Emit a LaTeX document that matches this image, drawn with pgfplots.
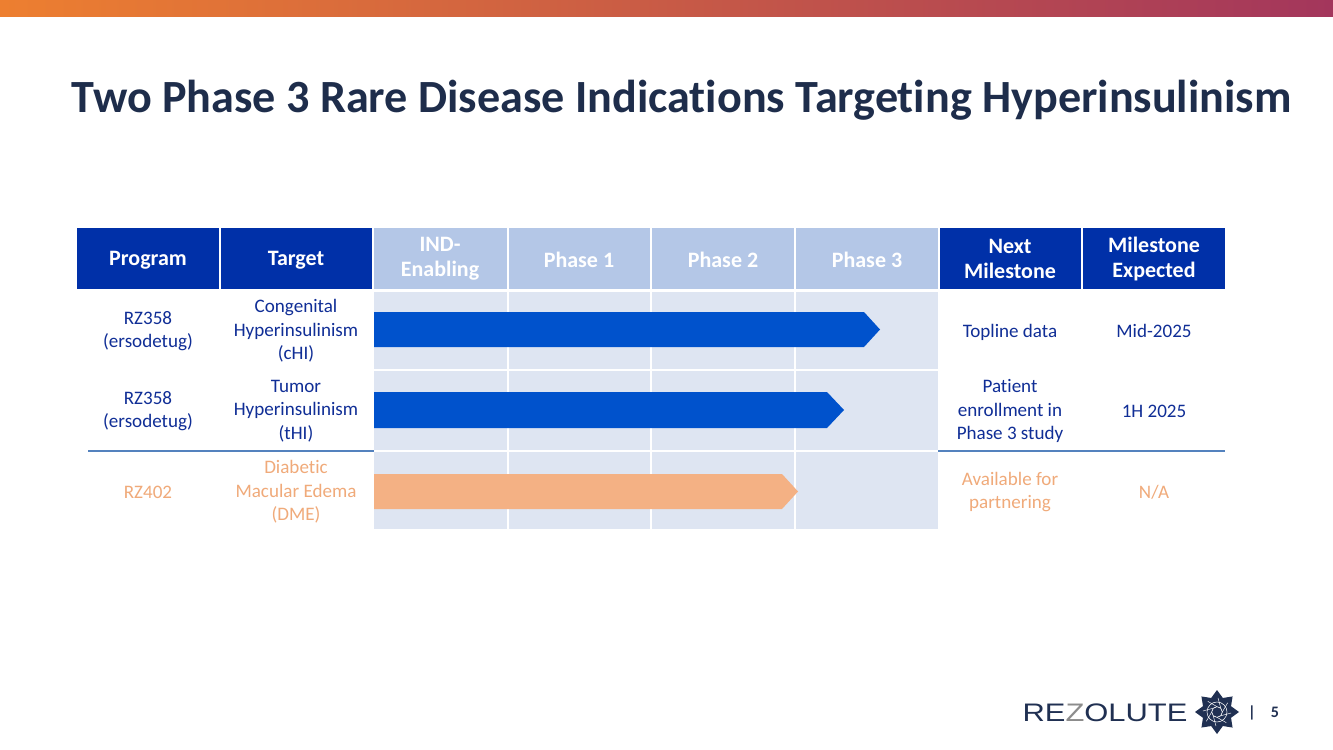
\documentclass[border=0pt]{standalone}
\usepackage{pgfplots}
\pgfplotsset{compat=1.18}
\usetikzlibrary{shapes.geometric}
\usepackage{fontspec}
\setmainfont{Carlito}[Ligatures=NoCommon]
\newfontfamily\logofont{Liberation Sans}

\definecolor{gradL}{RGB}{237,127,48}
\definecolor{gradR}{RGB}{163,54,92}
\definecolor{titlecol}{RGB}{30,45,75}
\definecolor{hdrdark}{RGB}{0,48,168}
\definecolor{hdrlight}{RGB}{180,199,231}
\definecolor{cellbg}{RGB}{222,229,242}
\definecolor{barblue}{RGB}{0,82,204}
\definecolor{barorange}{RGB}{244,177,132}
\definecolor{txtblue}{RGB}{16,46,150}
\definecolor{txtorange}{RGB}{240,170,122}
\definecolor{sepline}{RGB}{84,130,190}
\definecolor{logonavy}{RGB}{32,48,82}
\definecolor{logogray}{RGB}{140,140,140}

\newcommand{\cell}[5]{\addplot[fill=#5, draw=none] coordinates {(#1,#2)(#3,#2)(#3,#4)(#1,#4)} -- cycle;}

\begin{document}
\begin{tikzpicture}
\begin{axis}[
  width=999.75pt, height=561.75pt, scale only axis,
  xmin=0, xmax=1333, ymin=0, ymax=749, y dir=reverse,
  hide axis, clip=false]
% background
\cell{0}{0}{1333}{749}{white}
% top gradient band
\addplot[draw=none, left color=gradL, right color=gradR] coordinates {(0,0)(1333,0)(1333,17)(0,17)} -- cycle;

% header cells
\cell{77}{228}{219}{289}{hdrdark}
\cell{221}{228}{372}{289}{hdrdark}
\cell{374}{228}{507}{289}{hdrlight}
\cell{509}{228}{650}{289}{hdrlight}
\cell{652}{228}{794}{289}{hdrlight}
\cell{796}{228}{938}{289}{hdrlight}
\cell{940}{228}{1081}{289}{hdrdark}
\cell{1083}{228}{1225}{289}{hdrdark}

% body background cells (phase columns)
\cell{374}{292}{507}{369}{cellbg}
\cell{509}{292}{650}{369}{cellbg}
\cell{652}{292}{794}{369}{cellbg}
\cell{796}{292}{938}{369}{cellbg}
\cell{374}{371}{507}{450}{cellbg}
\cell{509}{371}{650}{450}{cellbg}
\cell{652}{371}{794}{450}{cellbg}
\cell{796}{371}{938}{450}{cellbg}
\cell{374}{452}{507}{529}{cellbg}
\cell{509}{452}{650}{529}{cellbg}
\cell{652}{452}{794}{529}{cellbg}
\cell{796}{452}{938}{529}{cellbg}

% separator line
\addplot[sepline, line width=1.1pt] coordinates {(88,451)(374,451)};
\addplot[sepline, line width=1.1pt] coordinates {(938,451)(1225,451)};

% progress bars (chevron arrows)
\addplot[fill=barblue, draw=none] coordinates {(374,312)(864,312)(880,329.5)(864,347)(374,347)} -- cycle;
\addplot[fill=barblue, draw=none] coordinates {(374,392)(827,392)(844,410)(827,428)(374,428)} -- cycle;
\addplot[fill=barorange, draw=none] coordinates {(374,474)(782,474)(798,491.5)(782,509)(374,509)} -- cycle;

% title
\node[text=titlecol, font=\fontsize{34.6}{40}\selectfont\bfseries, anchor=base] at (axis cs:681.5,112) {Two Phase 3 Rare Disease Indications Targeting Hyperinsulinism};

% header texts
\begin{scope}[every node/.style={text=white, font=\fontsize{16.5}{18.8}\selectfont\bfseries, align=center}]
\node at (axis cs:148,260) {Program};
\node at (axis cs:296,260) {Target};
\node at (axis cs:440,259) {IND-\\Enabling};
\node at (axis cs:579,260) {Phase 1};
\node at (axis cs:723,260) {Phase 2};
\node at (axis cs:867,260) {Phase 3};
\node at (axis cs:1010,259) {Next\\Milestone};
\node at (axis cs:1154,259) {Milestone\\Expected};
\end{scope}

% body texts
\begin{scope}[every node/.style={text=txtblue, font=\fontsize{14.3}{17.6}\selectfont, align=center}]
\node at (axis cs:148,331) {RZ358\\(ersodetug)};
\node at (axis cs:296,331) {Congenital\\Hyperinsulinism\\(cHI)};
\node at (axis cs:1010,332) {Topline data};
\node at (axis cs:1154,331) {Mid-2025};
\node at (axis cs:148,411) {RZ358\\(ersodetug)};
\node at (axis cs:296,411) {Tumor\\Hyperinsulinism\\(tHI)};
\node at (axis cs:1010,411) {Patient\\enrollment in\\Phase 3 study};
\node at (axis cs:1154,411) {1H 2025};
\end{scope}
\begin{scope}[every node/.style={text=txtorange, font=\fontsize{14.3}{17.6}\selectfont, align=center}]
\node at (axis cs:148,492) {RZ402};
\node at (axis cs:296,492) {Diabetic\\Macular Edema\\(DME)};
\node at (axis cs:1010,492) {Available for\\partnering};
\node at (axis cs:1154,492) {N/A};
\end{scope}

% logo anchors
\node[text=logonavy, font=\logofont\fontsize{19}{21}\selectfont, xscale=1.22, anchor=base] at (axis cs:1105,721) {RE{\color{logogray}Z}OLUTE};
\coordinate (emc) at (axis cs:1217,712);
\node[text=logonavy, font=\fontsize{12}{14}\selectfont\bfseries] at (axis cs:1252,713) {|};
\node[text=logonavy, font=\fontsize{12}{14}\selectfont\bfseries] at (axis cs:1275,712) {5};
\end{axis}
% emblem
\node[star, star points=8, star point ratio=1.45, fill=logonavy, minimum size=33pt, inner sep=0pt] (em) at (emc) {};
\draw[white, line width=0.5pt] (em.center) circle (4pt);
\draw[white, line width=0.4pt] (em.center) circle (7.5pt);
\foreach \a in {0,45,...,315} {\draw[white, line width=0.35pt] (em.center) ++(\a:4pt) -- ++(\a+60:8pt);}
\end{tikzpicture}
\end{document}
